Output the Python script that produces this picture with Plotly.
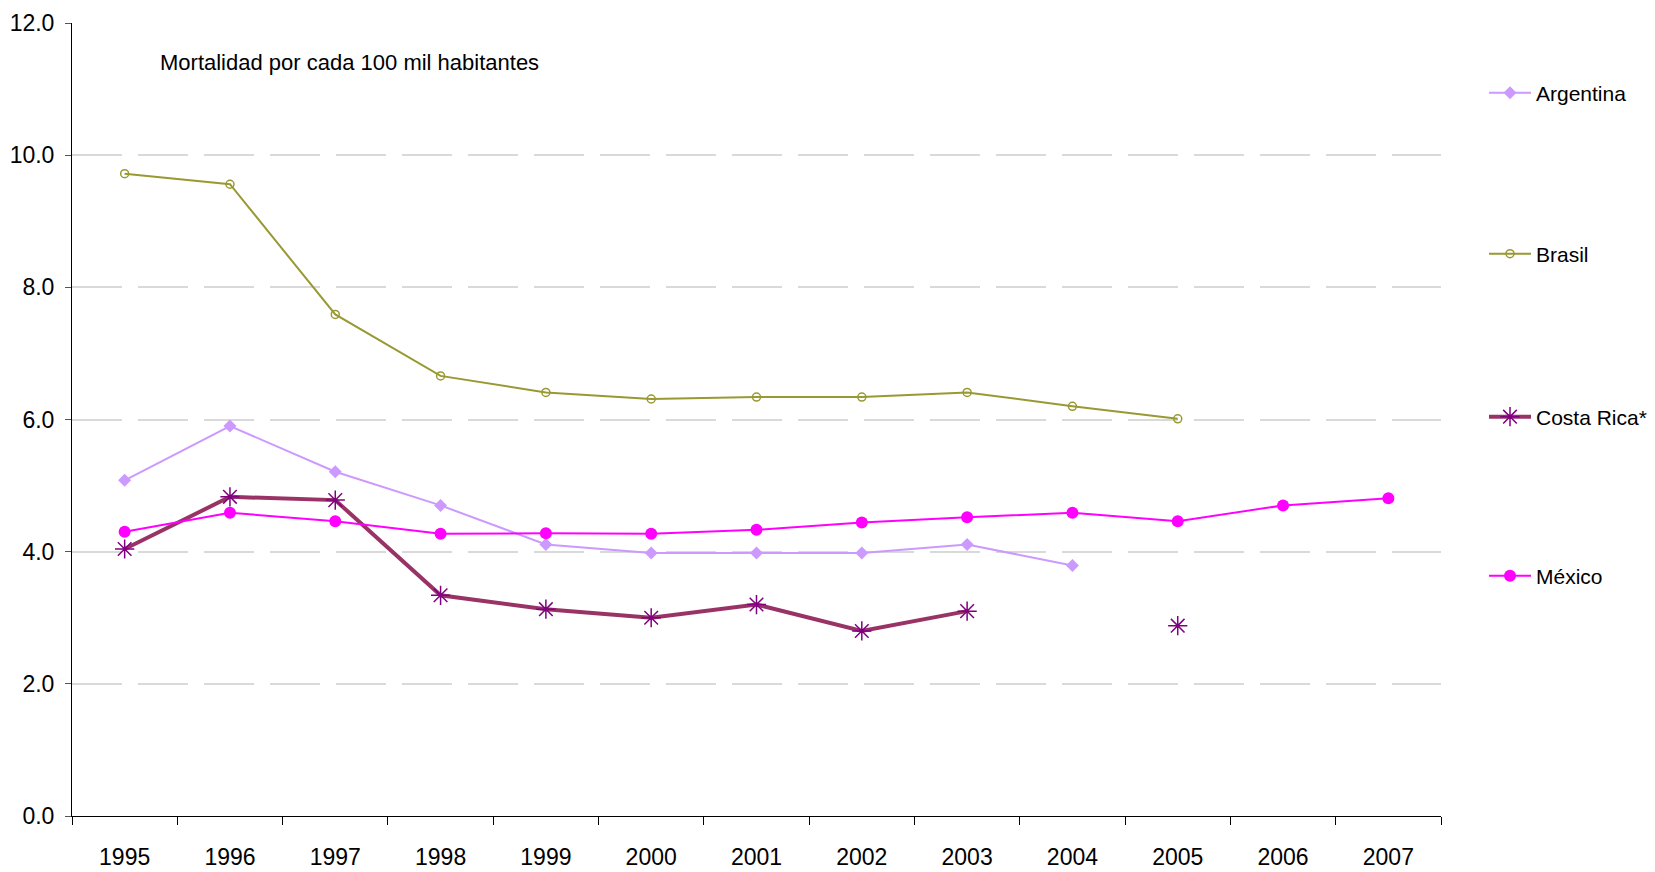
import plotly.graph_objects as go

years = ["1995", "1996", "1997", "1998", "1999", "2000", "2001",
         "2002", "2003", "2004", "2005", "2006", "2007"]

argentina = [5.08, 5.90, 5.21, 4.70, 4.11, 3.98, 3.98, 3.98, 4.11, 3.79, None, None, None]
brasil = [9.72, 9.56, 7.59, 6.66, 6.41, 6.31, 6.34, 6.34, 6.41, 6.20, 6.01, None, None]
costa_rica = [4.04, 4.83, 4.78, 3.34, 3.13, 3.00, 3.20, 2.80, 3.10, None, 2.88, None, None]
mexico = [4.30, 4.59, 4.46, 4.27, 4.28, 4.27, 4.33, 4.44, 4.52, 4.59, 4.46, 4.70, 4.81]

y_ticks = [0, 2, 4, 6, 8, 10, 12]
title_text = "Mortalidad por cada 100 mil habitantes"

FONT = "Liberation Sans Narrow, Arial Narrow, Liberation Sans, Arial, sans-serif"

fig = go.Figure()

fig.add_trace(go.Scatter(
    x=years, y=argentina, name="Argentina", mode="lines+markers",
    line=dict(color="#CC99FF", width=2),
    marker=dict(symbol="diamond", size=10, color="#CC99FF"),
    legend="legend", connectgaps=False))

fig.add_trace(go.Scatter(
    x=years, y=brasil, name="Brasil", mode="lines+markers",
    line=dict(color="#999933", width=2),
    marker=dict(symbol="circle-open", size=8, color="#999933", line=dict(width=1.5)),
    legend="legend2", connectgaps=False))

fig.add_trace(go.Scatter(
    x=years, y=costa_rica, name="Costa Rica*", mode="lines+markers",
    line=dict(color="#993366", width=4),
    marker=dict(symbol="asterisk-open", size=16, color="#800080", line=dict(width=1.5, color="#800080")),
    legend="legend3", connectgaps=False))

fig.add_trace(go.Scatter(
    x=years, y=mexico, name="México", mode="lines+markers",
    line=dict(color="#FF00FF", width=2),
    marker=dict(symbol="circle", size=12, color="#FF00FF"),
    legend="legend4", connectgaps=False))

W, H = 1655, 872
LX = 1484 / W
leg_common = dict(xref="container", yref="container",
                  xanchor="left", yanchor="middle", bgcolor="rgba(0,0,0,0)",
                  itemwidth=42,
                  font=dict(family=FONT, size=21, color="#000000"))

fig.update_layout(
    width=W, height=H,
    showlegend=True,
    margin=dict(l=72, r=214, t=23, b=56, autoexpand=False),
    paper_bgcolor="white", plot_bgcolor="white",
    font=dict(family=FONT, size=22, color="#000000"),
    legend=dict(x=LX, y=1 - 93 / H, **leg_common),
    legend2=dict(x=LX, y=1 - 254 / H, **leg_common),
    legend3=dict(x=LX, y=1 - 417 / H, **leg_common),
    legend4=dict(x=LX, y=1 - 576 / H, **leg_common),
    xaxis=dict(
        type="category", categoryorder="array", categoryarray=years,
        range=[-0.5, len(years) - 0.5],
        automargin=False,
        showline=True, linecolor="#000000", linewidth=1,
        ticks="outside", tickson="boundaries", ticklen=8, tickcolor="#000000",
        ticklabelstandoff=20,
        showgrid=False, zeroline=False,
        tickfont=dict(family=FONT, size=23, color="#000000"),
    ),
    yaxis=dict(
        range=[0, 12], tickvals=y_ticks,
        ticktext=[f"{v:.1f}" for v in y_ticks],
        automargin=False,
        showline=True, linecolor="#000000", linewidth=1,
        ticks="outside", ticklen=6, tickcolor="#555555",
        ticklabelstandoff=6,
        showgrid=True, gridcolor="#D9D9D9", griddash="50px,16px", gridwidth=1.5,
        zeroline=False,
        tickfont=dict(family=FONT, size=23, color="#000000"),
    ),
    annotations=[dict(
        text=title_text, xref="paper", yref="paper",
        x=(158 - 72) / 1369, y=(816 - 63) / 793, xanchor="left", yanchor="middle",
        showarrow=False, font=dict(family=FONT, size=22, color="#000000"))],
)

fig.write_html("out.html")
